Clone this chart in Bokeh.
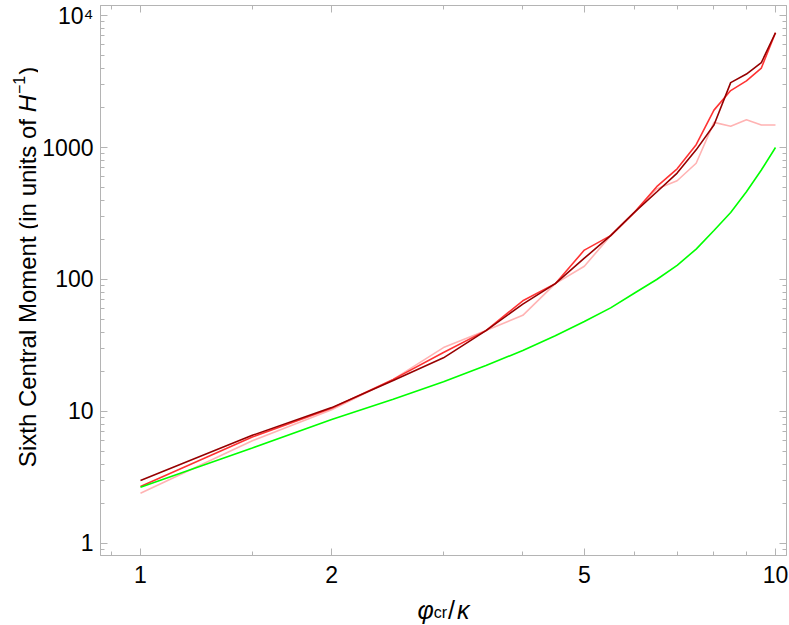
import math
from bokeh.plotting import figure
from bokeh.layouts import row, column
from bokeh.models import LogAxis, FixedTicker, Range1d, Label
from bokeh.embed import file_html
from bokeh.resources import INLINE

# ---------------- data ----------------
x_vals = [1, 1.5, 2, 2.5, 3, 3.5, 4, 4.5, 5, 5.5, 6, 6.5, 7, 7.5, 8, 8.5, 9, 9.5, 10]
dark_red = [3.0, 6.6, 10.7, 17.2, 25.5, 41, 65, 93, 145, 215, 324, 460, 640, 960,
            1480, 3100, 3600, 4400, 7400]
red = [2.7, 6.4, 10.6, 17.5, 28, 41, 69, 93, 167, 215, 324, 505, 690, 1050,
       1920, 2700, 3200, 4000, 7400]
pink = [2.4, 6.0, 10.3, 17.5, 30.5, 41, 53.5, 93, 126, 215, 324, 485, 560, 760,
        1550, 1450, 1620, 1480, 1480]
green = [2.67, 5.3, 8.7, 12.4, 16.8, 22.3, 29, 37.5, 48, 61, 79, 100, 128, 170,
         235, 322, 462, 675, 1000]

x_major = [1, 2, 5, 10]
x_minor = [0.9, 1.5, 3, 4, 6, 7, 8, 9]
y_major = [1, 10, 100, 1000, 10000]
y_minor = [0.9] + [m * 10 ** d for d in range(0, 4) for m in range(2, 10)]
y_labels = {1: "1", 10: "10", 100: "100", 1000: "1000", 10000: "10\u2074"}
x_labels = {1: "1", 2: "2", 5: "5", 10: "10"}

# ---------------- style ----------------
GRAY = "#b4b4b4"
FONT = "Liberation Sans"
TICK_SIZE = "23px"
YT_W = 38          # width of the y-title strip
TOTAL_H = 624
MAIN_W = 789 - YT_W
MAIN_H = 591
XT_H = TOTAL_H - MAIN_H
FRAME_LEFT = 100   # page x of the plot frame's left edge

p = figure(width=MAIN_W, height=MAIN_H, x_axis_type="log", y_axis_type="log",
           x_range=Range1d(0.865, 10.407), y_range=Range1d(0.811, 11907),
           output_backend="svg", toolbar_location=None,
           min_border_left=FRAME_LEFT - YT_W, min_border_right=3,
           min_border_top=5, min_border_bottom=36)
p.background_fill_color = "white"
p.border_fill_color = "white"
p.outline_line_color = GRAY
p.grid.grid_line_color = None

bottom = p.below[0]
left = p.left[0]
top = LogAxis()
right = LogAxis()
p.add_layout(top, "above")
p.add_layout(right, "right")


def style(ax, major, minor, labels, show, standoff=0):
    ax.ticker = FixedTicker(ticks=major, minor_ticks=minor)
    ax.axis_line_color = GRAY
    ax.major_tick_line_color = GRAY
    ax.minor_tick_line_color = GRAY
    ax.major_tick_in = 7
    ax.major_tick_out = 0
    ax.minor_tick_in = 4
    ax.minor_tick_out = 0
    ax.axis_label = None
    if show:
        ax.major_label_overrides = labels
        ax.major_label_text_font = FONT
        ax.major_label_text_font_size = TICK_SIZE
        ax.major_label_text_color = "black"
        ax.major_label_standoff = standoff
    else:
        ax.major_label_text_font_size = "0px"
        ax.major_label_text_color = None
        ax.major_label_standoff = 0


style(bottom, x_major, x_minor, x_labels, True, 10)
style(left, y_major, y_minor, y_labels, True, 7)
style(top, x_major, x_minor, x_labels, False)
style(right, y_major, y_minor, y_labels, False)

LW = 1.6
p.line(x_vals, pink, line_color="#ffb3b3", line_width=LW)
p.line(x_vals, red, line_color="#ff3333", line_width=LW)
p.line(x_vals, dark_red, line_color="#960000", line_width=LW)
p.line(x_vals, green, line_color="#00ff00", line_width=LW)


# ---------------- title strips (frames cover the whole strip) ----------------
def strip(w, h):
    f = figure(width=w, height=h, x_range=Range1d(0, 1), y_range=Range1d(0, 1),
               output_backend="svg", toolbar_location=None,
               x_axis_location=None, y_axis_location=None,
               min_border=0, min_border_left=0, min_border_right=0,
               min_border_top=0, min_border_bottom=0)
    f.outline_line_color = None
    f.background_fill_color = "white"
    f.border_fill_color = "white"
    f.grid.visible = False
    return f


xt = strip(MAIN_W, XT_H)
yt = strip(YT_W, TOTAL_H)

W = {" ": 278, "(": 333, ")": 333, "C": 722, "H": 722, "M": 833, "S": 667,
     "a": 556, "e": 556, "f": 278, "h": 556, "i": 222, "l": 222, "m": 833,
     "n": 556, "o": 556, "r": 333, "s": 500, "t": 278, "u": 556, "x": 500,
     "c": 500, "/": 278, "1": 556, "\u2212": 584, "\u03c6": 650, "\u03ba": 500}


def tw(s, size):
    return sum(W.get(ch, 556) for ch in s) / 1000.0 * size


def lab(fig, text, x, y, size, style="normal", angle=0.0):
    fig.add_layout(Label(x=x, y=y, x_units="screen", y_units="screen", text=text,
                         text_font=FONT, text_font_size=f"{size}px",
                         text_font_style=style, text_color="black",
                         text_align="left", text_baseline="alphabetic",
                         angle=angle))


# x title: phi_cr / kappa  (ink starts ~418)
# the strip's frame is aligned with the plot frame (page x = FRAME_LEFT)
F = 25
FS = 16
xs = 417.0 - FRAME_LEFT
yb = 15.0
lab(xt, "\u03c6", xs, yb, F, "italic")
xs += tw("\u03c6", F)
lab(xt, "cr", xs, yb - 3, FS)
xs += tw("cr", FS) + 1
lab(xt, "/", xs, yb, F)
xs += tw("/", F) + 2
lab(xt, "\u03ba", xs, yb, F, "italic")

# y title (rotated), centred at page y ~267, baseline at page x ~27
FY = 24
main = "Sixth Central Moment (in units of "
total = tw(main, FY) + tw("H", FY) + tw("\u22121", FY * 0.7) + tw(")", FY)
ys = (TOTAL_H - 267.0) - total / 2
xb = 27.0
ang = math.pi / 2
lab(yt, main, xb, ys, FY, angle=ang)
ys += tw(main, FY)
lab(yt, "H", xb, ys, FY, "italic", angle=ang)
ys += tw("H", FY) + 1
lab(yt, "\u22121", xb - 9, ys, int(FY * 0.7), angle=ang)
ys += tw("\u22121", FY * 0.7)
lab(yt, ")", xb, ys, FY, angle=ang)

layout = row(yt, column(p, xt, spacing=0), spacing=0)
open("out.html", "w").write(file_html(layout, INLINE))
